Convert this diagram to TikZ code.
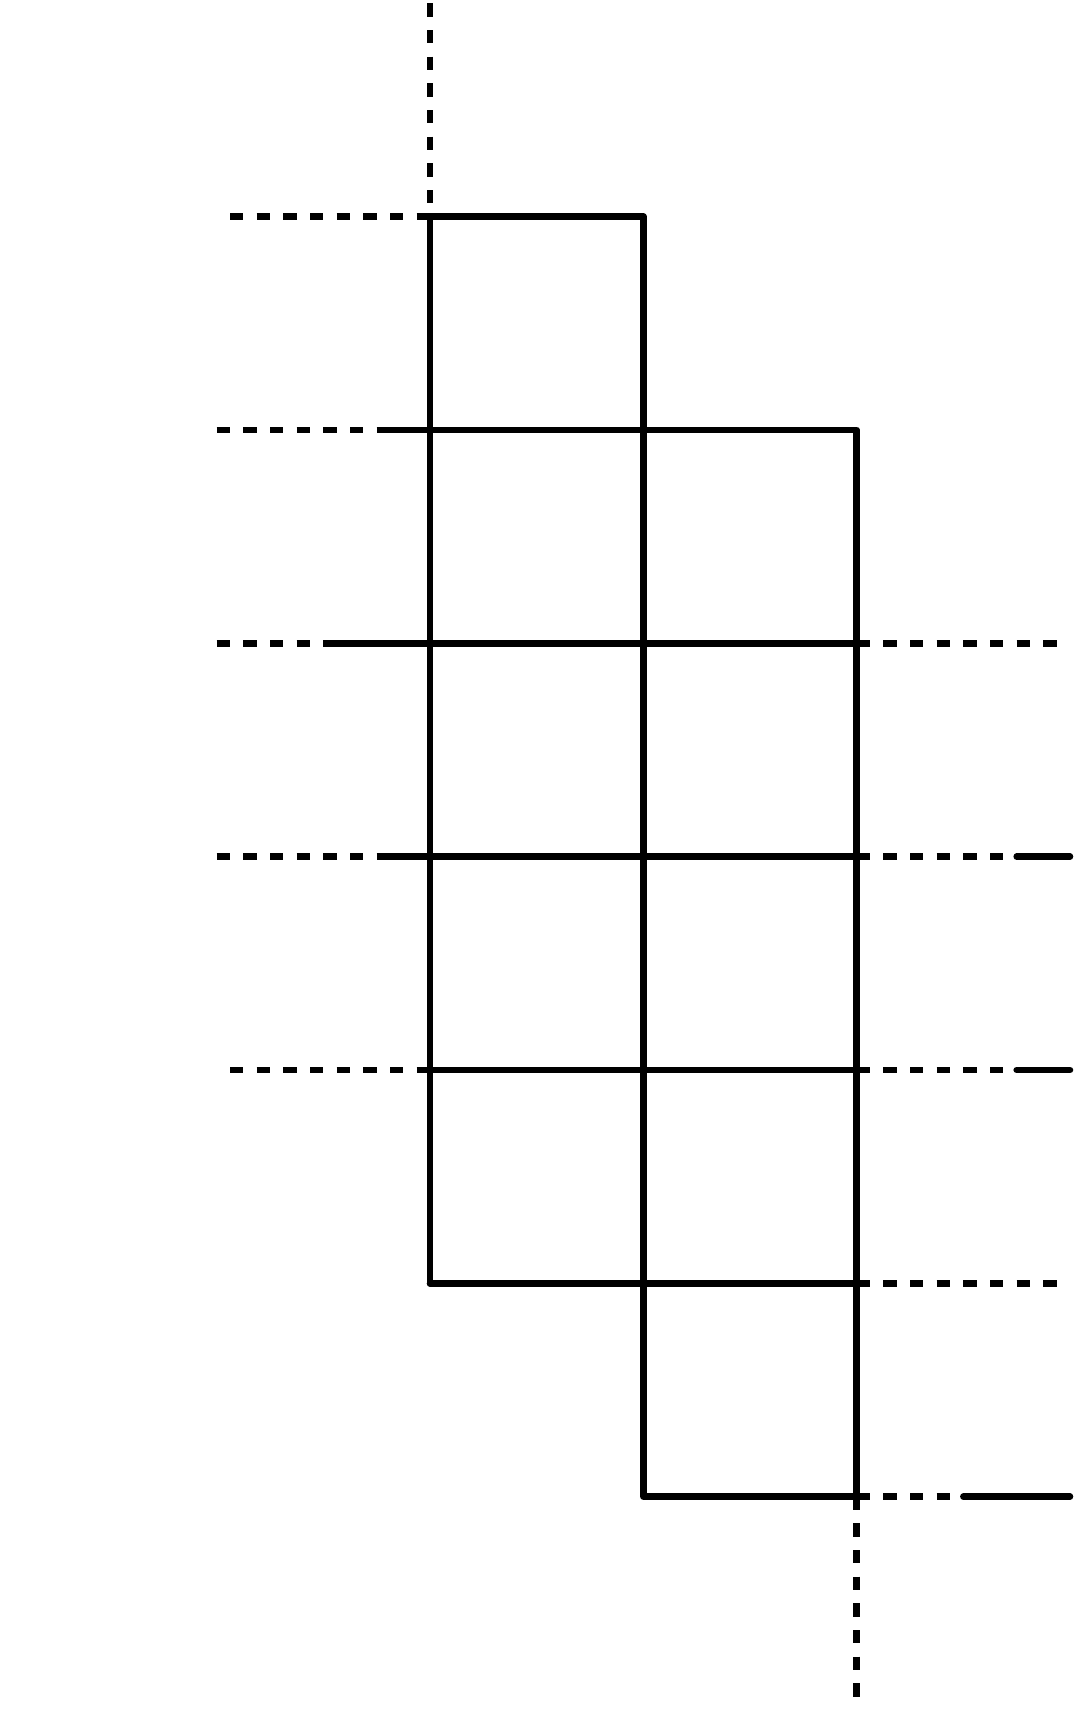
\documentclass[tikz,border=0pt]{standalone}
\begin{document}
\begin{tikzpicture}[x=0.75pt,y=-0.75pt,
  gridline/.style={line width=4.9pt, line cap=round, line join=round},
  rowline/.style={line width=4.9pt, line cap=butt},
  extline/.style={line width=4.9pt, line cap=butt, dash pattern=on 10pt off 10pt},
  endline/.style={line width=4.9pt, line cap=round}]
\useasboundingbox (0,0) rectangle (1074,1714);
\def\xa{430}\def\xb{643.33}\def\xc{856.67}
\def\ya{216.67}\def\yb{430}\def\yc{643.33}\def\yd{856.67}
\def\ye{1070}\def\yf{1283.33}\def\yg{1496.67}
% named grid points
\coordinate (a1) at (\xa,\ya); \coordinate (b1) at (\xb,\ya);
\coordinate (a6) at (\xa,\yf); \coordinate (b7) at (\xb,\yg);
\coordinate (c2) at (\xc,\yb); \coordinate (c7) at (\xc,\yg);
% solid grid
\draw[gridline] (a6) -- (a1) -- (b1) -- (b7) -- (c7) -- (c2) -- (\xa,\yb);
\draw[rowline] (376.67,\yb) -- (\xb,\yb);
\draw[rowline] (323.33,\yc) -- (\xc,\yc);
\draw[rowline] (376.67,\yd) -- (\xc,\yd);
\draw[rowline] (\xa,\ye) -- (\xc,\ye);
\draw[gridline] (a6) -- (\xc,\yf);
% right solid ends
\draw[endline] (1016.67,\yd) -- (1070,\yd);
\draw[endline] (1016.67,\ye) -- (1070,\ye);
\draw[endline] (963.33,\yg) -- (1070,\yg);
% dashed extensions
\draw[extline] (\xa,3.33) -- (\xa,210);
\draw[extline] (c7) -- (\xc,1700);
\draw[extline] (230,\ya) -- (a1);
\draw[extline] (216.67,\yb) -- (376.67,\yb);
\draw[extline] (216.67,\yc) -- (323.33,\yc);
\draw[extline] (216.67,\yd) -- (376.67,\yd);
\draw[extline] (230,\ye) -- (\xa,\ye);
\draw[extline] (\xc,\yc) -- (1056.67,\yc);
\draw[extline] (\xc,\yf) -- (1056.67,\yf);
\draw[extline] (\xc,\yd) -- (1003.33,\yd);
\draw[extline] (\xc,\ye) -- (1003.33,\ye);
\draw[extline] (c7) -- (950,\yg);
\end{tikzpicture}
\end{document}
